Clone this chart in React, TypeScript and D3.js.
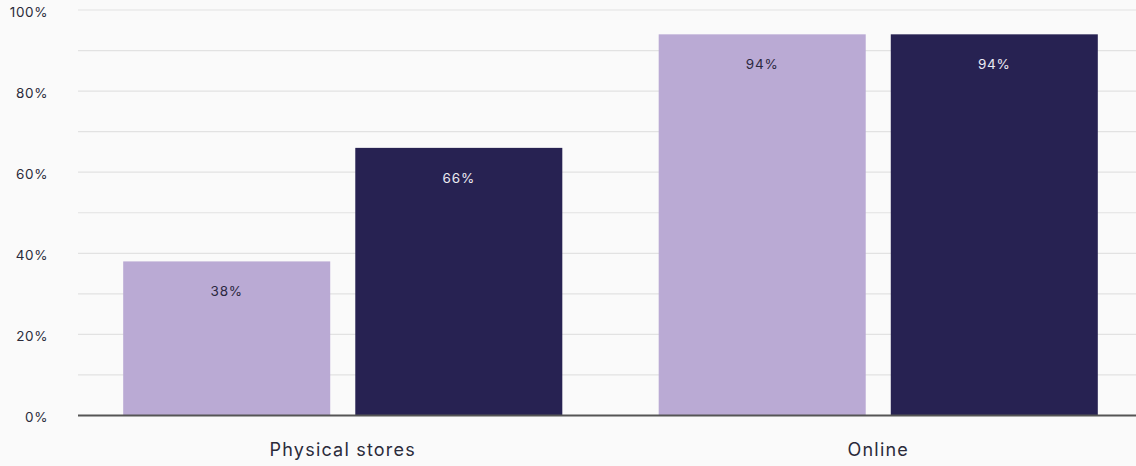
import React, { useEffect } from "react";
import * as d3 from "d3";

const categories = ["Physical stores", "Online"];
const seriesNames = ["Series 1", "Series 2"];
const seriesA = [38, 94];
const seriesB = [66, 94];
const yTicks = [0, 20, 40, 60, 80, 100];
const gridTicks = [0, 10, 20, 30, 40, 50, 60, 70, 80, 90, 100];

const W = 1136;
const H = 466;
const colors = ["#baaad4", "#272252"];
const labelColors = ["#2b2840", "#ecebf3"];
const FONT = "Inter, 'Noto Sans', sans-serif";

export default function App() {
  useEffect(() => {
    document.body.style.margin = "0";
    document.body.style.background = "#fafafa";
  }, []);

  const x0 = d3.scaleBand<string>().domain(categories).range([75, 1146]).paddingInner(0.18).paddingOuter(0.09);
  const x1 = d3.scaleBand<string>().domain(seriesNames).range([0, x0.bandwidth()]).paddingInner(0.108).paddingOuter(0);
  const y = d3.scaleLinear().domain([0, 100]).range([415.5, 10]);
  const values = [seriesA, seriesB];

  return (
    <svg width={W} height={H} style={{ display: "block", background: "#fafafa" }} fontFamily={FONT}>
      <rect x={0} y={0} width={W} height={H} fill="#fafafa" />
      {gridTicks.map((t) => (
        <line key={t} x1={78} x2={W} y1={y(t)} y2={y(t)} stroke="#e2e2e2" strokeWidth={1.2} />
      ))}
      {yTicks.map((t) => (
        <text key={t} x={48} y={y(t) + 2} dy="0.35em" textAnchor="end" fontSize={13.5} letterSpacing={0.6} fill="#2b2b3a">
          {t}%
        </text>
      ))}
      {categories.map((c, ci) => (
        <g key={c} transform={`translate(${x0(c)},0)`}>
          {seriesNames.map((s, si) => {
            const v = values[si][ci];
            const bx = x1(s) as number;
            return (
              <g key={s}>
                <rect x={bx} y={y(v)} width={x1.bandwidth()} height={y(0) - y(v)} fill={colors[si]} />
                <text
                  x={bx + x1.bandwidth() / 2}
                  y={y(v) + 30}
                  dy="0.35em"
                  textAnchor="middle"
                  fontSize={13.5}
                  letterSpacing={0.8}
                  fill={labelColors[si]}
                >
                  {v}%
                </text>
              </g>
            );
          })}
          <text
            x={x0.bandwidth() / 2}
            y={450}
            dy="0.35em"
            textAnchor="middle"
            fontSize={18}
            letterSpacing={1.2}
            fill="#2b2b3a"
          >
            {c}
          </text>
        </g>
      ))}
      <line x1={78} x2={W} y1={y(0)} y2={y(0)} stroke="#555555" strokeWidth={1.8} />
    </svg>
  );
}
